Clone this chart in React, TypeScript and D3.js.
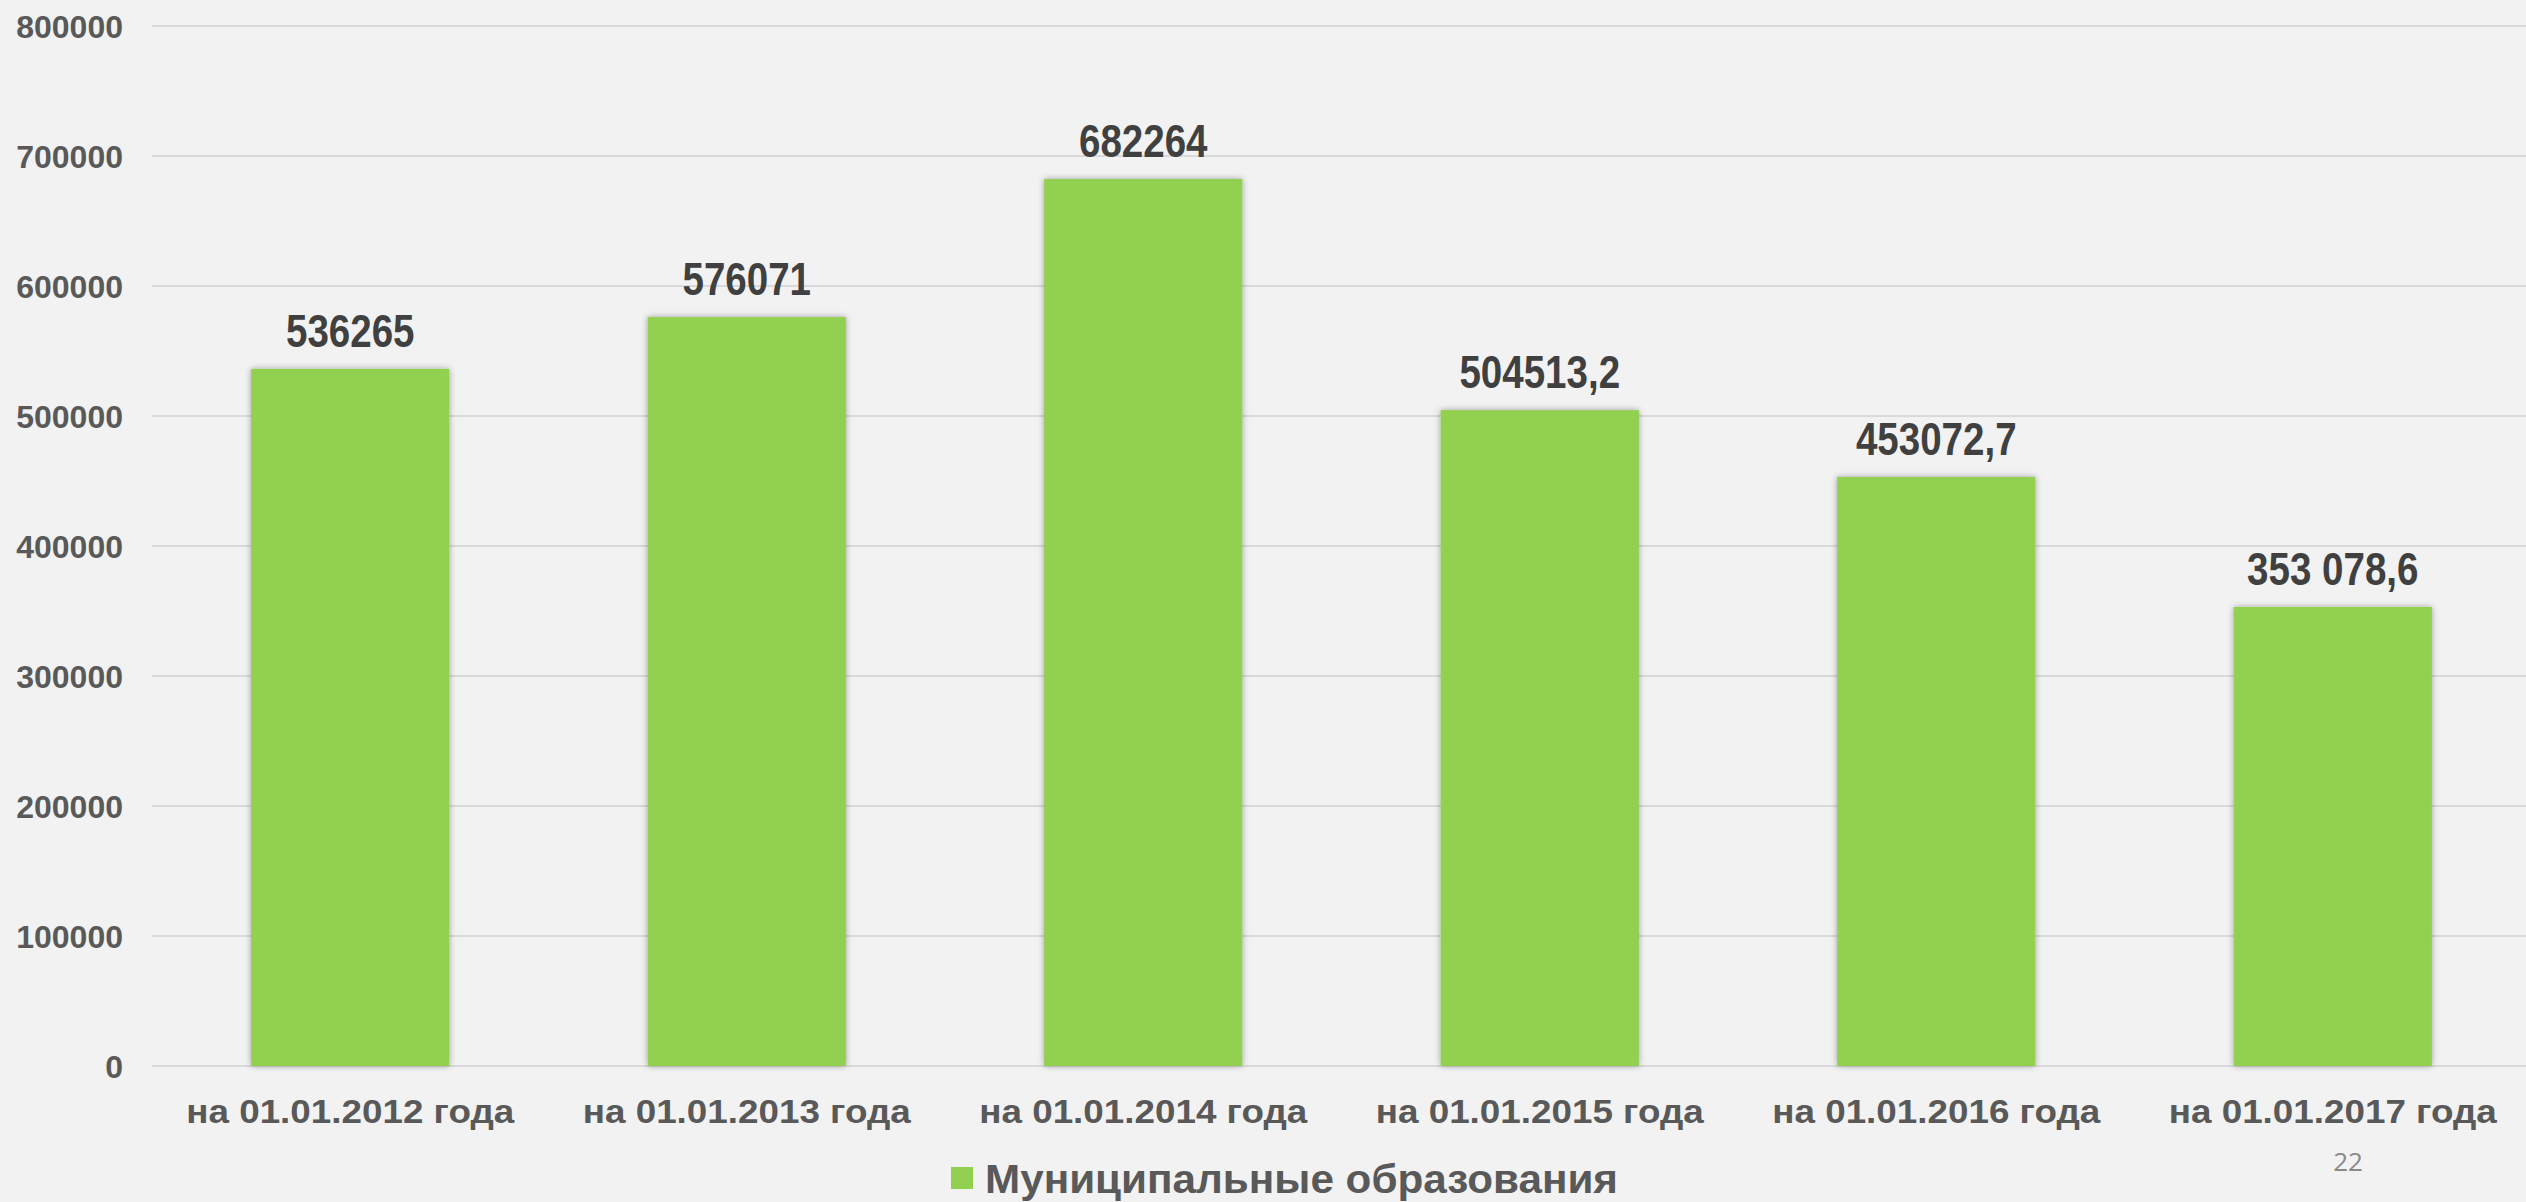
import React, { useEffect, useRef } from 'react'
import * as d3 from 'd3'

const categories = [
    'на 01.01.2012 года',
    'на 01.01.2013 года',
    'на 01.01.2014 года',
    'на 01.01.2015 года',
    'на 01.01.2016 года',
    'на 01.01.2017 года'
]
const values = [536265, 576071, 682264, 504513.2, 453072.7, 353078.6]
const valueLabels = ['536265', '576071', '682264', '504513,2', '453072,7', '353 078,6']
const yTicks = [0, 100000, 200000, 300000, 400000, 500000, 600000, 700000, 800000]
const seriesName = 'Муниципальные образования'
const pageNumber = '22'

const width = 2526
const height = 1202
const margin = { top: 26, right: -5, bottom: 136, left: 152 }

export default function App() {
    const node = useRef<SVGSVGElement>(null)

    useEffect(() => {
        const svg = d3.select(node.current)
        svg.selectAll('*').remove()

        const x = d3.scaleBand<string>()
            .domain(categories)
            .range([margin.left, width - margin.right])
            .paddingInner(0.5)
            .paddingOuter(0.25)

        const y = d3.scaleLinear()
            .domain([0, 800000])
            .range([height - margin.bottom, margin.top])

        svg.append('rect')
            .attr('width', width)
            .attr('height', height)
            .attr('fill', '#f2f2f2')

        const defs = svg.append('defs')
        defs.append('filter')
            .attr('id', 'shadow')
            .attr('x', '-20%').attr('y', '-20%')
            .attr('width', '140%').attr('height', '140%')
            .append('feDropShadow')
            .attr('dx', 0).attr('dy', 0)
            .attr('stdDeviation', 3)
            .attr('flood-color', '#000')
            .attr('flood-opacity', 0.35)

        // grid + y labels
        const yAxis = svg.append('g')
        yAxis.selectAll('line')
            .data(yTicks)
            .join('line')
            .attr('x1', margin.left)
            .attr('x2', width)
            .attr('y1', d => y(d))
            .attr('y2', d => y(d))
            .attr('stroke', '#d9d9d9')
            .attr('stroke-width', 2)
        yAxis.selectAll('text')
            .data(yTicks)
            .join('text')
            .attr('x', 123)
            .attr('y', d => y(d) + 12)
            .attr('text-anchor', 'end')
            .attr('font-family', '"Liberation Sans", Arial, sans-serif')
            .attr('font-weight', 'bold')
            .attr('font-size', 32)
            .attr('fill', '#595959')
            .text(d => String(d))

        // bars
        svg.append('g')
            .selectAll('rect')
            .data(values)
            .join('rect')
            .attr('x', (d, i) => x(categories[i])!)
            .attr('y', d => y(d))
            .attr('width', x.bandwidth())
            .attr('height', d => y(0) - y(d))
            .attr('fill', '#92d050')
            .attr('filter', 'url(#shadow)')

        // value labels (narrow bold look: squeeze horizontally)
        svg.append('g')
            .selectAll('text')
            .data(values)
            .join('text')
            .attr('transform', (d, i) =>
                `translate(${x(categories[i])! + x.bandwidth() / 2},${y(d) - 22}) scale(0.82,1)`)
            .attr('text-anchor', 'middle')
            .attr('font-family', '"Liberation Sans", Arial, sans-serif')
            .attr('font-weight', 'bold')
            .attr('font-size', 47)
            .attr('fill', '#404040')
            .text((d, i) => valueLabels[i])

        // category labels
        svg.append('g')
            .selectAll('text')
            .data(categories)
            .join('text')
            .attr('x', d => x(d)! + x.bandwidth() / 2)
            .attr('y', y(0) + 57)
            .attr('text-anchor', 'middle')
            .attr('font-family', '"Liberation Sans", Arial, sans-serif')
            .attr('font-weight', 'bold')
            .attr('font-size', 33)
            .attr('fill', '#595959')
            .attr('textLength', 328)
            .attr('lengthAdjust', 'spacingAndGlyphs')
            .text(d => d)

        // legend
        const legend = svg.append('g')
        legend.append('rect')
            .attr('x', 951)
            .attr('y', 1167)
            .attr('width', 22)
            .attr('height', 22)
            .attr('fill', '#92d050')
        legend.append('text')
            .attr('x', 985)
            .attr('y', 1193)
            .attr('font-family', '"Liberation Sans", Arial, sans-serif')
            .attr('font-weight', 'bold')
            .attr('font-size', 41)
            .attr('fill', '#595959')
            .attr('textLength', 633)
            .attr('lengthAdjust', 'spacingAndGlyphs')
            .text(seriesName)

        svg.append('text')
            .attr('x', 2348)
            .attr('y', 1171)
            .attr('text-anchor', 'middle')
            .attr('font-family', '"Open Sans", sans-serif')
            .attr('font-size', 26)
            .attr('fill', '#898989')
            .text(pageNumber)
    }, [])

    return (
        <svg
            ref={node}
            width={width}
            height={height}
            style={{ position: 'absolute', left: 0, top: 0, display: 'block' }}
        />
    )
}
